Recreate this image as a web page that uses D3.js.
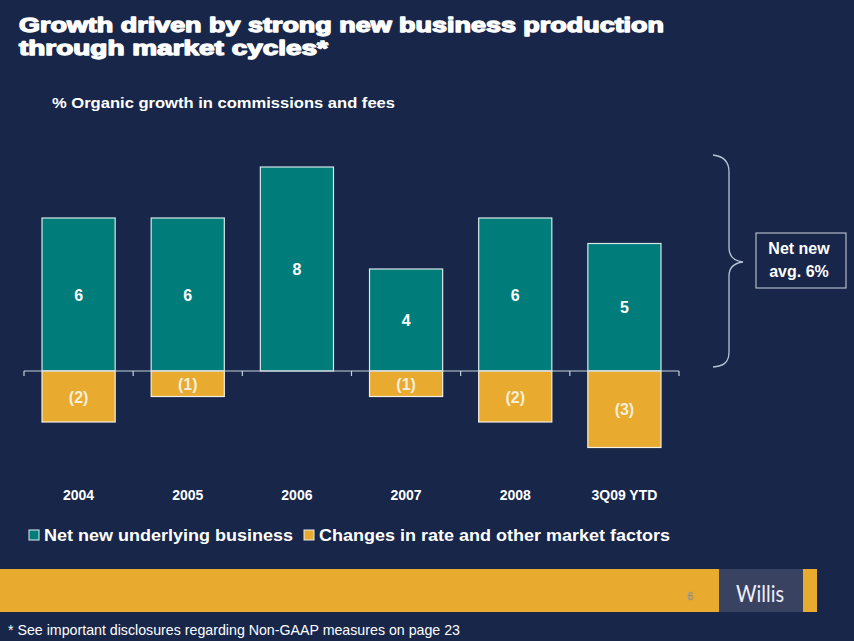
<!DOCTYPE html>
<html>
<head>
<meta charset="utf-8">
<script src="https://cdn.jsdelivr.net/npm/d3@7"></script>
<style>
  html, body { margin: 0; padding: 0; background: #172649; }
  svg { display: block; }
</style>
</head>
<body>
<script>
// ---- data ----
const categories = ["2004", "2005", "2006", "2007", "2008", "3Q09 YTD"];
const netNew = [6, 6, 8, 4, 6, 5];
const marketChanges = [-2, -1, 0, -1, -2, -3];
const seriesNames = ["Net new underlying business", "Changes in rate and other market factors"];
const titleLines = ["Growth driven by strong new business production", "through market cycles*"];
const subtitle = "% Organic growth in commissions and fees";
const calloutLines = ["Net new", "avg. 6%"];
const footnote = "* See important disclosures regarding Non-GAAP measures on page 23";

const W = 854, H = 641;
const BG = "#172649", TEAL = "#007C7A", ORANGE = "#E8AA2F";

const svg = d3.select("body").append("svg").attr("width", W).attr("height", H);
svg.append("rect").attr("width", W).attr("height", H).attr("fill", BG);

// title
const title = svg.append("g");
titleLines.forEach((t, i) => {
  title.append("text")
    .attr("x", 19).attr("y", 32 + i * 22.5)
    .attr("font-family", "'Liberation Sans', Arial, sans-serif")
    .attr("font-weight", "bold").attr("font-size", 19.5)
    .attr("fill", "#ffffff").attr("stroke", "#ffffff").attr("stroke-width", 1.3)
    .attr("stroke-linejoin", "round")
    .attr("textLength", i === 0 ? 645 : 309).attr("lengthAdjust", "spacingAndGlyphs")
    .text(t);
});

// subtitle
svg.append("text")
  .attr("x", 52).attr("y", 108)
  .attr("font-family", "'Liberation Sans Narrow', 'Arial Narrow', 'Liberation Sans', sans-serif")
  .attr("font-weight", "bold").attr("font-size", 15)
  .attr("fill", "#ffffff")
  .attr("textLength", 343).attr("lengthAdjust", "spacingAndGlyphs")
  .text(subtitle);

// scales
const x = d3.scaleBand().domain(categories).range([24, 679]).paddingInner(0.33).paddingOuter(0.165);
const y = d3.scaleLinear().domain([-3, 8]).range([447.5, 167]);

const rows = categories.map((c, i) => ({ c, pos: netNew[i], neg: marketChanges[i] }));

// teal bars
svg.append("g").selectAll("rect").data(rows).join("rect")
  .attr("x", d => x(d.c)).attr("width", x.bandwidth())
  .attr("y", d => y(d.pos)).attr("height", d => y(0) - y(d.pos))
  .attr("fill", TEAL).attr("stroke", "#d6e8e8").attr("stroke-width", 1.2);

// orange bars
svg.append("g").selectAll("rect").data(rows.filter(d => d.neg !== 0)).join("rect")
  .attr("x", d => x(d.c)).attr("width", x.bandwidth())
  .attr("y", y(0)).attr("height", d => y(d.neg) - y(0))
  .attr("fill", ORANGE).attr("stroke", "#f4efe2").attr("stroke-width", 1.2);

// axis baseline + ticks at band boundaries
const ax = svg.append("g").attr("stroke", "#c9d1dc").attr("stroke-width", 1.2);
ax.append("line").attr("x1", x.range()[0]).attr("x2", x.range()[1]).attr("y1", y(0)).attr("y2", y(0));
const bounds = d3.range(categories.length + 1).map(i => x.range()[0] + i * x.step());
ax.selectAll("line.tick").data(bounds).join("line").attr("class", "tick")
  .attr("x1", d => d).attr("x2", d => d).attr("y1", y(0)).attr("y2", y(0) + 5);

// value labels
svg.append("g").selectAll("text").data(rows).join("text")
  .attr("x", d => x(d.c) + x.bandwidth() / 2)
  .attr("y", d => (y(d.pos) + y(0)) / 2 + 6)
  .attr("text-anchor", "middle")
  .attr("font-family", "'Liberation Sans', Arial, sans-serif")
  .attr("font-weight", "bold").attr("font-size", 16).attr("fill", "#ffffff")
  .text(d => d.pos);

svg.append("g").selectAll("text").data(rows.filter(d => d.neg !== 0)).join("text")
  .attr("x", d => x(d.c) + x.bandwidth() / 2)
  .attr("y", d => (y(d.neg) + y(0)) / 2 + 6)
  .attr("text-anchor", "middle")
  .attr("font-family", "'Liberation Sans', Arial, sans-serif")
  .attr("font-weight", "bold").attr("font-size", 16).attr("fill", "#f7efd9")
  .text(d => "(" + Math.abs(d.neg) + ")");

// category labels
const xAxis = svg.append("g").attr("transform", "translate(0,490)")
  .call(d3.axisBottom(x).tickSize(0).tickPadding(0));
xAxis.select(".domain").remove();
xAxis.selectAll("text")
  .attr("font-family", "'Liberation Sans Narrow', 'Arial Narrow', 'Liberation Sans', sans-serif")
  .attr("font-weight", "bold")
  .attr("font-size", 14).attr("fill", "#ffffff");

// brace
const bp = d3.path();
bp.moveTo(713, 155);
bp.bezierCurveTo(722, 156, 729, 160, 729, 172);
bp.lineTo(729, 248);
bp.bezierCurveTo(729, 257, 735, 261, 743, 262);
bp.bezierCurveTo(735, 263, 729, 267, 729, 276);
bp.lineTo(729, 352);
bp.bezierCurveTo(729, 364, 722, 366, 713, 367);
svg.append("path").attr("d", bp.toString()).attr("fill", "none")
  .attr("stroke", "#b7c3d6").attr("stroke-width", 1.3);

// callout box
svg.append("rect").attr("x", 756).attr("y", 233).attr("width", 90).attr("height", 55)
  .attr("fill", "none").attr("stroke", "#cfd6e2").attr("stroke-width", 1);
calloutLines.forEach((t, i) => {
  svg.append("text").attr("x", 799).attr("y", 254 + i * 23)
    .attr("text-anchor", "middle")
    .attr("font-family", "'Liberation Sans', Arial, sans-serif")
    .attr("font-weight", "bold").attr("font-size", 16).attr("fill", "#ffffff")
    .text(t);
});

// legend
const legend = svg.append("g");
const legendItems = [
  { name: seriesNames[0], color: TEAL, sx: 29, tx: 44, w: 249 },
  { name: seriesNames[1], color: ORANGE, sx: 304, tx: 319, w: 351 }
];
legendItems.forEach(it => {
  legend.append("rect").attr("x", it.sx).attr("y", 530).attr("width", 10).attr("height", 10)
    .attr("fill", it.color).attr("stroke", "#e6ecef").attr("stroke-width", 1);
  legend.append("text").attr("x", it.tx).attr("y", 541)
    .attr("font-family", "'Liberation Sans', Arial, sans-serif")
    .attr("font-weight", "bold").attr("font-size", 16.5).attr("fill", "#ffffff")
    .attr("textLength", it.w).attr("lengthAdjust", "spacingAndGlyphs")
    .text(it.name);
});

// bottom band
svg.append("rect").attr("x", 0).attr("y", 569).attr("width", 817).attr("height", 43)
  .attr("fill", ORANGE);
svg.append("rect").attr("x", 719).attr("y", 569).attr("width", 84).attr("height", 43)
  .attr("fill", "#3A4262");
svg.append("text").attr("x", 760).attr("y", 602).attr("text-anchor", "middle")
  .attr("font-family", "Lato, 'Open Sans', sans-serif").attr("font-size", 23)
  .attr("fill", "#eef0f6").attr("textLength", 48).attr("lengthAdjust", "spacingAndGlyphs")
  .text("Willis");
svg.append("text").attr("x", 690).attr("y", 600).attr("text-anchor", "middle")
  .attr("font-family", "'Liberation Sans', Arial, sans-serif").attr("font-size", 11)
  .attr("fill", "#efe3b8").attr("stroke", "#8d877a").attr("stroke-width", 0.6)
  .text("6");

// footnote
svg.append("text").attr("x", 8).attr("y", 635)
  .attr("font-family", "'Liberation Sans Narrow', 'Arial Narrow', 'Liberation Sans', sans-serif")
  .attr("font-size", 14.5).attr("fill", "#ffffff")
  .attr("textLength", 452).attr("lengthAdjust", "spacingAndGlyphs")
  .text(footnote);
</script>
</body>
</html>
